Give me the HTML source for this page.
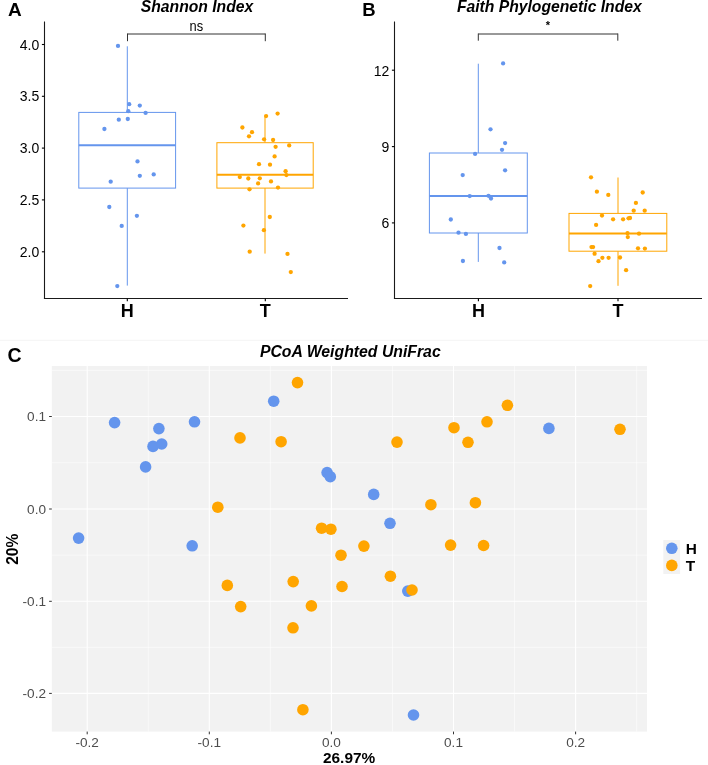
<!DOCTYPE html>
<html><head><meta charset="utf-8"><style>
html,body{margin:0;padding:0;background:#fff;}
svg{display:block;will-change:transform;}
text{font-family:"Liberation Sans", sans-serif;}
</style></head><body>
<svg width="708" height="765" viewBox="0 0 708 765">
<rect x="0" y="0" width="708" height="765" fill="#fff"/>
<rect x="0" y="339.8" width="708" height="1" fill="#F4F4F4" stroke="none" stroke-width="1"/>
<line x1="127.3" y1="46.3" x2="127.3" y2="112.4" stroke="#6495ED" stroke-width="1.0" />
<line x1="127.3" y1="188.1" x2="127.3" y2="285.6" stroke="#6495ED" stroke-width="1.0" />
<rect x="78.8" y="112.4" width="96.8" height="75.69999999999999" fill="#fff" stroke="#6495ED" stroke-width="1.0"/>
<line x1="78.8" y1="145.3" x2="175.6" y2="145.3" stroke="#6495ED" stroke-width="2.0" />
<line x1="265.0" y1="116.1" x2="265.0" y2="142.7" stroke="#FFA500" stroke-width="1.0" />
<line x1="265.0" y1="188.1" x2="265.0" y2="253.6" stroke="#FFA500" stroke-width="1.0" />
<rect x="216.9" y="142.7" width="96.29999999999998" height="45.400000000000006" fill="#fff" stroke="#FFA500" stroke-width="1.0"/>
<line x1="216.9" y1="174.7" x2="313.2" y2="174.7" stroke="#FFA500" stroke-width="2.0" />
<circle cx="118.0" cy="45.9" r="2.15" fill="#6495ED"/>
<circle cx="129.2" cy="104.2" r="2.15" fill="#6495ED"/>
<circle cx="139.8" cy="105.6" r="2.15" fill="#6495ED"/>
<circle cx="128.3" cy="111.2" r="2.15" fill="#6495ED"/>
<circle cx="145.6" cy="112.9" r="2.15" fill="#6495ED"/>
<circle cx="118.8" cy="119.7" r="2.15" fill="#6495ED"/>
<circle cx="127.8" cy="119.0" r="2.15" fill="#6495ED"/>
<circle cx="104.4" cy="129.0" r="2.15" fill="#6495ED"/>
<circle cx="137.5" cy="161.4" r="2.15" fill="#6495ED"/>
<circle cx="139.8" cy="175.8" r="2.15" fill="#6495ED"/>
<circle cx="153.7" cy="174.4" r="2.15" fill="#6495ED"/>
<circle cx="110.7" cy="181.7" r="2.15" fill="#6495ED"/>
<circle cx="109.3" cy="207.0" r="2.15" fill="#6495ED"/>
<circle cx="136.9" cy="215.8" r="2.15" fill="#6495ED"/>
<circle cx="121.7" cy="225.9" r="2.15" fill="#6495ED"/>
<circle cx="117.3" cy="286.1" r="2.15" fill="#6495ED"/>
<circle cx="277.6" cy="113.6" r="2.15" fill="#FFA500"/>
<circle cx="266.1" cy="116.1" r="2.15" fill="#FFA500"/>
<circle cx="242.4" cy="127.5" r="2.15" fill="#FFA500"/>
<circle cx="252.0" cy="132.2" r="2.15" fill="#FFA500"/>
<circle cx="249.0" cy="136.3" r="2.15" fill="#FFA500"/>
<circle cx="264.1" cy="139.3" r="2.15" fill="#FFA500"/>
<circle cx="273.1" cy="140.0" r="2.15" fill="#FFA500"/>
<circle cx="275.6" cy="146.8" r="2.15" fill="#FFA500"/>
<circle cx="289.2" cy="145.4" r="2.15" fill="#FFA500"/>
<circle cx="274.6" cy="156.4" r="2.15" fill="#FFA500"/>
<circle cx="259.0" cy="164.2" r="2.15" fill="#FFA500"/>
<circle cx="270.0" cy="164.7" r="2.15" fill="#FFA500"/>
<circle cx="285.6" cy="171.2" r="2.15" fill="#FFA500"/>
<circle cx="286.4" cy="175.1" r="2.15" fill="#FFA500"/>
<circle cx="239.8" cy="177.1" r="2.15" fill="#FFA500"/>
<circle cx="248.3" cy="178.5" r="2.15" fill="#FFA500"/>
<circle cx="259.8" cy="178.3" r="2.15" fill="#FFA500"/>
<circle cx="258.1" cy="183.4" r="2.15" fill="#FFA500"/>
<circle cx="271.0" cy="181.4" r="2.15" fill="#FFA500"/>
<circle cx="249.5" cy="189.3" r="2.15" fill="#FFA500"/>
<circle cx="278.0" cy="187.6" r="2.15" fill="#FFA500"/>
<circle cx="269.8" cy="217.0" r="2.15" fill="#FFA500"/>
<circle cx="243.4" cy="225.6" r="2.15" fill="#FFA500"/>
<circle cx="263.9" cy="230.2" r="2.15" fill="#FFA500"/>
<circle cx="249.7" cy="251.7" r="2.15" fill="#FFA500"/>
<circle cx="287.5" cy="253.9" r="2.15" fill="#FFA500"/>
<circle cx="290.8" cy="272.1" r="2.15" fill="#FFA500"/>
<line x1="44.5" y1="21.5" x2="44.5" y2="299.05" stroke="#1a1a1a" stroke-width="1.1" />
<line x1="43.95" y1="298.5" x2="348" y2="298.5" stroke="#1a1a1a" stroke-width="1.1" />
<line x1="41.9" y1="44.5" x2="44.5" y2="44.5" stroke="#000" stroke-width="1.1" />
<text x="39.3" y="49.5" font-size="14" text-anchor="end" font-weight="normal" font-style="normal" fill="#000" >4.0</text>
<line x1="41.9" y1="96.3" x2="44.5" y2="96.3" stroke="#000" stroke-width="1.1" />
<text x="39.3" y="101.3" font-size="14" text-anchor="end" font-weight="normal" font-style="normal" fill="#000" >3.5</text>
<line x1="41.9" y1="148.1" x2="44.5" y2="148.1" stroke="#000" stroke-width="1.1" />
<text x="39.3" y="153.1" font-size="14" text-anchor="end" font-weight="normal" font-style="normal" fill="#000" >3.0</text>
<line x1="41.9" y1="199.9" x2="44.5" y2="199.9" stroke="#000" stroke-width="1.1" />
<text x="39.3" y="204.9" font-size="14" text-anchor="end" font-weight="normal" font-style="normal" fill="#000" >2.5</text>
<line x1="41.9" y1="251.8" x2="44.5" y2="251.8" stroke="#000" stroke-width="1.1" />
<text x="39.3" y="256.8" font-size="14" text-anchor="end" font-weight="normal" font-style="normal" fill="#000" >2.0</text>
<line x1="127.3" y1="298.5" x2="127.3" y2="301.2" stroke="#000" stroke-width="1.1" />
<text x="127.3" y="317" font-size="18" text-anchor="middle" font-weight="bold" font-style="normal" fill="#000" >H</text>
<line x1="265.3" y1="298.5" x2="265.3" y2="301.2" stroke="#000" stroke-width="1.1" />
<text x="265.3" y="317" font-size="18" text-anchor="middle" font-weight="bold" font-style="normal" fill="#000" >T</text>
<line x1="127.5" y1="34.0" x2="265.3" y2="34.0" stroke="#333" stroke-width="1.0" />
<line x1="127.5" y1="33.5" x2="127.5" y2="41.2" stroke="#333" stroke-width="1.0" />
<line x1="265.3" y1="33.5" x2="265.3" y2="41.2" stroke="#333" stroke-width="1.0" />
<text x="196.4" y="31.3" font-size="15.5" text-anchor="middle" font-weight="normal" font-style="normal" fill="#000" textLength="13.6" lengthAdjust="spacingAndGlyphs">ns</text>
<text x="197" y="12.2" font-size="15.7" text-anchor="middle" font-weight="bold" font-style="italic" fill="#000" >Shannon Index</text>
<text x="8.0" y="16.2" font-size="19" text-anchor="start" font-weight="bold" font-style="normal" fill="#000" >A</text>
<line x1="478.3" y1="63.7" x2="478.3" y2="153.0" stroke="#6495ED" stroke-width="1.0" />
<line x1="478.3" y1="233.0" x2="478.3" y2="261.9" stroke="#6495ED" stroke-width="1.0" />
<rect x="429.4" y="153.0" width="97.89999999999998" height="80.0" fill="#fff" stroke="#6495ED" stroke-width="1.0"/>
<line x1="429.4" y1="196.0" x2="527.3" y2="196.0" stroke="#6495ED" stroke-width="2.0" />
<line x1="618.0" y1="177.5" x2="618.0" y2="213.4" stroke="#FFA500" stroke-width="1.0" />
<line x1="618.0" y1="251.2" x2="618.0" y2="285.8" stroke="#FFA500" stroke-width="1.0" />
<rect x="569.0" y="213.4" width="97.79999999999995" height="37.79999999999998" fill="#fff" stroke="#FFA500" stroke-width="1.0"/>
<line x1="569.0" y1="233.6" x2="666.8" y2="233.6" stroke="#FFA500" stroke-width="2.0" />
<circle cx="503.1" cy="63.4" r="2.15" fill="#6495ED"/>
<circle cx="490.5" cy="129.3" r="2.15" fill="#6495ED"/>
<circle cx="505.1" cy="143.1" r="2.15" fill="#6495ED"/>
<circle cx="502.0" cy="149.8" r="2.15" fill="#6495ED"/>
<circle cx="475.1" cy="153.9" r="2.15" fill="#6495ED"/>
<circle cx="505.1" cy="170.3" r="2.15" fill="#6495ED"/>
<circle cx="462.7" cy="175.1" r="2.15" fill="#6495ED"/>
<circle cx="469.7" cy="196.1" r="2.15" fill="#6495ED"/>
<circle cx="488.5" cy="195.8" r="2.15" fill="#6495ED"/>
<circle cx="491.0" cy="198.5" r="2.15" fill="#6495ED"/>
<circle cx="450.8" cy="219.5" r="2.15" fill="#6495ED"/>
<circle cx="458.5" cy="232.7" r="2.15" fill="#6495ED"/>
<circle cx="465.9" cy="233.9" r="2.15" fill="#6495ED"/>
<circle cx="499.5" cy="248.0" r="2.15" fill="#6495ED"/>
<circle cx="462.9" cy="261.0" r="2.15" fill="#6495ED"/>
<circle cx="504.2" cy="262.4" r="2.15" fill="#6495ED"/>
<circle cx="591.0" cy="177.3" r="2.15" fill="#FFA500"/>
<circle cx="596.9" cy="191.7" r="2.15" fill="#FFA500"/>
<circle cx="608.3" cy="194.9" r="2.15" fill="#FFA500"/>
<circle cx="642.7" cy="192.5" r="2.15" fill="#FFA500"/>
<circle cx="635.9" cy="202.9" r="2.15" fill="#FFA500"/>
<circle cx="633.7" cy="210.7" r="2.15" fill="#FFA500"/>
<circle cx="644.7" cy="210.7" r="2.15" fill="#FFA500"/>
<circle cx="602.0" cy="215.6" r="2.15" fill="#FFA500"/>
<circle cx="613.1" cy="219.3" r="2.15" fill="#FFA500"/>
<circle cx="623.1" cy="219.3" r="2.15" fill="#FFA500"/>
<circle cx="628.5" cy="218.3" r="2.15" fill="#FFA500"/>
<circle cx="630.0" cy="218.0" r="2.15" fill="#FFA500"/>
<circle cx="596.1" cy="224.9" r="2.15" fill="#FFA500"/>
<circle cx="627.5" cy="233.2" r="2.15" fill="#FFA500"/>
<circle cx="639.0" cy="233.7" r="2.15" fill="#FFA500"/>
<circle cx="627.8" cy="237.1" r="2.15" fill="#FFA500"/>
<circle cx="591.5" cy="247.1" r="2.15" fill="#FFA500"/>
<circle cx="593.1" cy="247.1" r="2.15" fill="#FFA500"/>
<circle cx="638.0" cy="248.3" r="2.15" fill="#FFA500"/>
<circle cx="644.9" cy="248.6" r="2.15" fill="#FFA500"/>
<circle cx="594.6" cy="253.7" r="2.15" fill="#FFA500"/>
<circle cx="602.4" cy="257.8" r="2.15" fill="#FFA500"/>
<circle cx="608.6" cy="257.8" r="2.15" fill="#FFA500"/>
<circle cx="598.5" cy="261.2" r="2.15" fill="#FFA500"/>
<circle cx="620.0" cy="257.5" r="2.15" fill="#FFA500"/>
<circle cx="626.1" cy="270.2" r="2.15" fill="#FFA500"/>
<circle cx="590.2" cy="286.1" r="2.15" fill="#FFA500"/>
<line x1="394.5" y1="21.5" x2="394.5" y2="299.05" stroke="#1a1a1a" stroke-width="1.1" />
<line x1="393.95" y1="298.5" x2="702" y2="298.5" stroke="#1a1a1a" stroke-width="1.1" />
<line x1="391.9" y1="70.2" x2="394.5" y2="70.2" stroke="#000" stroke-width="1.1" />
<text x="389.3" y="75.60000000000001" font-size="14" text-anchor="end" font-weight="normal" font-style="normal" fill="#000" >12</text>
<line x1="391.9" y1="146.6" x2="394.5" y2="146.6" stroke="#000" stroke-width="1.1" />
<text x="389.3" y="152.0" font-size="14" text-anchor="end" font-weight="normal" font-style="normal" fill="#000" >9</text>
<line x1="391.9" y1="222.9" x2="394.5" y2="222.9" stroke="#000" stroke-width="1.1" />
<text x="389.3" y="228.3" font-size="14" text-anchor="end" font-weight="normal" font-style="normal" fill="#000" >6</text>
<line x1="478.4" y1="298.5" x2="478.4" y2="301.2" stroke="#000" stroke-width="1.1" />
<text x="478.4" y="317" font-size="18" text-anchor="middle" font-weight="bold" font-style="normal" fill="#000" >H</text>
<line x1="618.0" y1="298.5" x2="618.0" y2="301.2" stroke="#000" stroke-width="1.1" />
<text x="618.0" y="317" font-size="18" text-anchor="middle" font-weight="bold" font-style="normal" fill="#000" >T</text>
<line x1="478.3" y1="34.0" x2="617.8" y2="34.0" stroke="#333" stroke-width="1.0" />
<line x1="478.3" y1="33.5" x2="478.3" y2="40.7" stroke="#333" stroke-width="1.0" />
<line x1="617.8" y1="33.5" x2="617.8" y2="40.7" stroke="#333" stroke-width="1.0" />
<text x="548.0" y="29.2" font-size="11" text-anchor="middle" font-weight="bold" font-style="normal" fill="#000" >*</text>
<text x="549.3" y="12.2" font-size="15.7" text-anchor="middle" font-weight="bold" font-style="italic" fill="#000" >Faith Phylogenetic Index</text>
<text x="362.3" y="16.0" font-size="18.5" text-anchor="start" font-weight="bold" font-style="normal" fill="#000" >B</text>
<rect x="51.8" y="366.0" width="595.2" height="365.6" fill="#F2F2F2" stroke="none" stroke-width="1"/>
<line x1="148.25" y1="366.0" x2="148.25" y2="731.6" stroke="#fff" stroke-width="0.55" />
<line x1="270.35" y1="366.0" x2="270.35" y2="731.6" stroke="#fff" stroke-width="0.55" />
<line x1="392.45" y1="366.0" x2="392.45" y2="731.6" stroke="#fff" stroke-width="0.55" />
<line x1="514.55" y1="366.0" x2="514.55" y2="731.6" stroke="#fff" stroke-width="0.55" />
<line x1="636.65" y1="366.0" x2="636.65" y2="731.6" stroke="#fff" stroke-width="0.55" />
<line x1="51.8" y1="370.35" x2="647.0" y2="370.35" stroke="#fff" stroke-width="0.55" />
<line x1="51.8" y1="462.75" x2="647.0" y2="462.75" stroke="#fff" stroke-width="0.55" />
<line x1="51.8" y1="555.15" x2="647.0" y2="555.15" stroke="#fff" stroke-width="0.55" />
<line x1="51.8" y1="647.35" x2="647.0" y2="647.35" stroke="#fff" stroke-width="0.55" />
<line x1="87.2" y1="366.0" x2="87.2" y2="731.6" stroke="#fff" stroke-width="1.1" />
<line x1="209.3" y1="366.0" x2="209.3" y2="731.6" stroke="#fff" stroke-width="1.1" />
<line x1="331.4" y1="366.0" x2="331.4" y2="731.6" stroke="#fff" stroke-width="1.1" />
<line x1="453.49999999999994" y1="366.0" x2="453.49999999999994" y2="731.6" stroke="#fff" stroke-width="1.1" />
<line x1="575.6" y1="366.0" x2="575.6" y2="731.6" stroke="#fff" stroke-width="1.1" />
<line x1="51.8" y1="416.5" x2="647.0" y2="416.5" stroke="#fff" stroke-width="1.1" />
<line x1="51.8" y1="509.0" x2="647.0" y2="509.0" stroke="#fff" stroke-width="1.1" />
<line x1="51.8" y1="601.3" x2="647.0" y2="601.3" stroke="#fff" stroke-width="1.1" />
<line x1="51.8" y1="693.4" x2="647.0" y2="693.4" stroke="#fff" stroke-width="1.1" />
<circle cx="114.6" cy="422.6" r="5.8" fill="#6495ED"/>
<circle cx="158.9" cy="428.6" r="5.8" fill="#6495ED"/>
<circle cx="153.0" cy="446.4" r="5.8" fill="#6495ED"/>
<circle cx="161.7" cy="444.0" r="5.8" fill="#6495ED"/>
<circle cx="145.6" cy="466.9" r="5.8" fill="#6495ED"/>
<circle cx="194.5" cy="421.8" r="5.8" fill="#6495ED"/>
<circle cx="273.7" cy="401.2" r="5.8" fill="#6495ED"/>
<circle cx="327.1" cy="472.6" r="5.8" fill="#6495ED"/>
<circle cx="330.3" cy="476.7" r="5.8" fill="#6495ED"/>
<circle cx="373.7" cy="494.4" r="5.8" fill="#6495ED"/>
<circle cx="548.9" cy="428.4" r="5.8" fill="#6495ED"/>
<circle cx="78.6" cy="538.1" r="5.8" fill="#6495ED"/>
<circle cx="192.2" cy="545.8" r="5.8" fill="#6495ED"/>
<circle cx="390.0" cy="523.3" r="5.8" fill="#6495ED"/>
<circle cx="407.8" cy="591.1" r="5.8" fill="#6495ED"/>
<circle cx="413.5" cy="715.0" r="5.8" fill="#6495ED"/>
<circle cx="297.5" cy="382.6" r="5.8" fill="#FFA500"/>
<circle cx="240.0" cy="437.9" r="5.8" fill="#FFA500"/>
<circle cx="281.1" cy="441.7" r="5.8" fill="#FFA500"/>
<circle cx="217.8" cy="507.2" r="5.8" fill="#FFA500"/>
<circle cx="397.0" cy="442.1" r="5.8" fill="#FFA500"/>
<circle cx="454.0" cy="427.7" r="5.8" fill="#FFA500"/>
<circle cx="468.0" cy="442.3" r="5.8" fill="#FFA500"/>
<circle cx="487.0" cy="421.8" r="5.8" fill="#FFA500"/>
<circle cx="430.9" cy="504.7" r="5.8" fill="#FFA500"/>
<circle cx="475.4" cy="502.7" r="5.8" fill="#FFA500"/>
<circle cx="507.4" cy="405.3" r="5.8" fill="#FFA500"/>
<circle cx="620.0" cy="429.3" r="5.8" fill="#FFA500"/>
<circle cx="321.6" cy="528.2" r="5.8" fill="#FFA500"/>
<circle cx="330.9" cy="529.2" r="5.8" fill="#FFA500"/>
<circle cx="341.0" cy="555.2" r="5.8" fill="#FFA500"/>
<circle cx="227.3" cy="585.4" r="5.8" fill="#FFA500"/>
<circle cx="293.2" cy="581.6" r="5.8" fill="#FFA500"/>
<circle cx="342.0" cy="586.5" r="5.8" fill="#FFA500"/>
<circle cx="240.7" cy="606.6" r="5.8" fill="#FFA500"/>
<circle cx="311.4" cy="605.9" r="5.8" fill="#FFA500"/>
<circle cx="293.0" cy="627.8" r="5.8" fill="#FFA500"/>
<circle cx="363.9" cy="546.1" r="5.8" fill="#FFA500"/>
<circle cx="450.6" cy="545.1" r="5.8" fill="#FFA500"/>
<circle cx="483.6" cy="545.5" r="5.8" fill="#FFA500"/>
<circle cx="390.4" cy="576.2" r="5.8" fill="#FFA500"/>
<circle cx="412.0" cy="590.0" r="5.8" fill="#FFA500"/>
<circle cx="302.9" cy="709.7" r="5.8" fill="#FFA500"/>
<line x1="49.099999999999994" y1="416.5" x2="51.8" y2="416.5" stroke="#333" stroke-width="1.0" />
<text x="46.0" y="421.2" font-size="13.6" text-anchor="end" font-weight="normal" font-style="normal" fill="#4D4D4D" >0.1</text>
<line x1="49.099999999999994" y1="509.0" x2="51.8" y2="509.0" stroke="#333" stroke-width="1.0" />
<text x="46.0" y="513.7" font-size="13.6" text-anchor="end" font-weight="normal" font-style="normal" fill="#4D4D4D" >0.0</text>
<line x1="49.099999999999994" y1="601.3" x2="51.8" y2="601.3" stroke="#333" stroke-width="1.0" />
<text x="46.0" y="606.0" font-size="13.6" text-anchor="end" font-weight="normal" font-style="normal" fill="#4D4D4D" >-0.1</text>
<line x1="49.099999999999994" y1="693.4" x2="51.8" y2="693.4" stroke="#333" stroke-width="1.0" />
<text x="46.0" y="698.1" font-size="13.6" text-anchor="end" font-weight="normal" font-style="normal" fill="#4D4D4D" >-0.2</text>
<line x1="87.2" y1="731.6" x2="87.2" y2="734.3000000000001" stroke="#333" stroke-width="1.0" />
<text x="87.2" y="746.6" font-size="13.6" text-anchor="middle" font-weight="normal" font-style="normal" fill="#4D4D4D" >-0.2</text>
<line x1="209.3" y1="731.6" x2="209.3" y2="734.3000000000001" stroke="#333" stroke-width="1.0" />
<text x="209.3" y="746.6" font-size="13.6" text-anchor="middle" font-weight="normal" font-style="normal" fill="#4D4D4D" >-0.1</text>
<line x1="331.4" y1="731.6" x2="331.4" y2="734.3000000000001" stroke="#333" stroke-width="1.0" />
<text x="331.4" y="746.6" font-size="13.6" text-anchor="middle" font-weight="normal" font-style="normal" fill="#4D4D4D" >0.0</text>
<line x1="453.49999999999994" y1="731.6" x2="453.49999999999994" y2="734.3000000000001" stroke="#333" stroke-width="1.0" />
<text x="453.49999999999994" y="746.6" font-size="13.6" text-anchor="middle" font-weight="normal" font-style="normal" fill="#4D4D4D" >0.1</text>
<line x1="575.6" y1="731.6" x2="575.6" y2="734.3000000000001" stroke="#333" stroke-width="1.0" />
<text x="575.6" y="746.6" font-size="13.6" text-anchor="middle" font-weight="normal" font-style="normal" fill="#4D4D4D" >0.2</text>
<text x="350.3" y="357.0" font-size="15.8" text-anchor="middle" font-weight="bold" font-style="italic" fill="#000" >PCoA Weighted UniFrac</text>
<text x="349.1" y="763.0" font-size="15.4" text-anchor="middle" font-weight="bold" font-style="normal" fill="#000" >26.97%</text>
<text x="0" y="0" font-size="15.6" text-anchor="middle" font-weight="bold" font-style="normal" fill="#000" transform="translate(17.8,549.2) rotate(-90)">20%</text>
<text x="7.6" y="362.2" font-size="19.5" text-anchor="start" font-weight="bold" font-style="normal" fill="#000" >C</text>
<rect x="663.3" y="540.0" width="16.8" height="34.0" fill="#F2F2F2" stroke="none" stroke-width="1"/>
<circle cx="671.8" cy="548.3" r="5.8" fill="#6495ED"/>
<circle cx="671.8" cy="565.4" r="5.8" fill="#FFA500"/>
<text x="685.8" y="553.8" font-size="15.4" text-anchor="start" font-weight="bold" font-style="normal" fill="#000" >H</text>
<text x="685.8" y="570.9" font-size="15.4" text-anchor="start" font-weight="bold" font-style="normal" fill="#000" >T</text>
</svg>
</body></html>
